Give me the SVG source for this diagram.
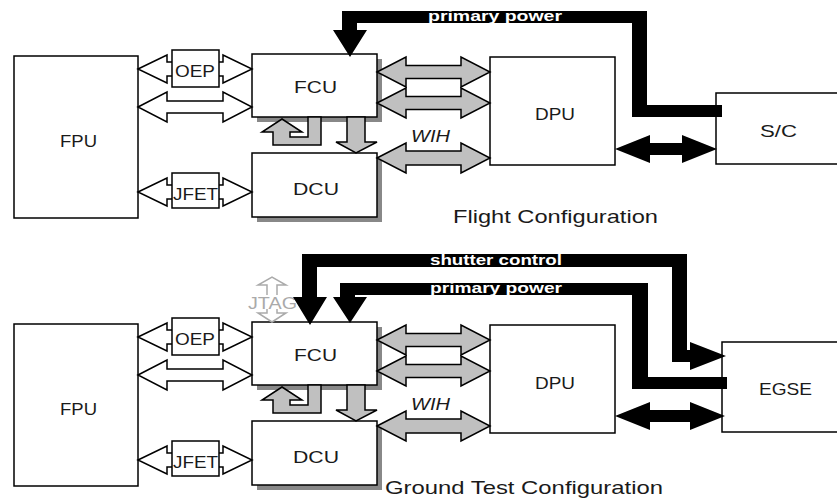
<svg xmlns="http://www.w3.org/2000/svg" width="837" height="503" viewBox="0 0 837 503">
<style>
.bg{fill:#fff}
.box{fill:#fff;stroke:#000;stroke-width:1.5}
.shadow{fill:#888}
.lbl{font-family:"Liberation Sans",Arial,sans-serif;font-size:17px;fill:#1a1a1a}
.cap{font-family:"Liberation Sans",Arial,sans-serif;font-size:19px;fill:#1a1a1a}
.it{font-family:"Liberation Sans",Arial,sans-serif;font-size:17px;font-style:italic;fill:#1a1a1a}
.ga{fill:#c0c0c0;stroke:#000;stroke-width:1.5}
.wa{fill:#fff;stroke:#000;stroke-width:1.5}
.ba{fill:#000}
.pw{font-family:"Liberation Sans",Arial,sans-serif;font-weight:bold;font-size:14px;fill:#fff}
.jt{fill:none;stroke:#aaa;stroke-width:1.5}
.jtt{font-family:"Liberation Sans",Arial,sans-serif;font-size:16px;fill:#aaa}
</style>
<rect class="bg" x="0" y="0" width="837" height="503"/>

<!-- ===== Flight configuration ===== -->
<g id="fpu1"><rect class="box" x="14" y="56" width="124" height="162"/><text class="lbl" x="60" y="147" textLength="37" lengthAdjust="spacingAndGlyphs">FPU</text></g>
<g id="fcu1"><rect class="shadow" x="257" y="59" width="125" height="63"/><rect class="box" x="252" y="54" width="125" height="63"/><text class="lbl" x="294" y="93" textLength="43" lengthAdjust="spacingAndGlyphs">FCU</text></g>
<g id="dcu1"><rect class="shadow" x="257" y="158" width="125" height="64"/><rect class="box" x="252" y="153" width="125" height="64"/><text class="lbl" x="293" y="195" textLength="46" lengthAdjust="spacingAndGlyphs">DCU</text></g>
<g id="dpu1"><rect class="box" x="490" y="57" width="125" height="108"/><text class="lbl" x="535" y="120" textLength="40" lengthAdjust="spacingAndGlyphs">DPU</text></g>
<g id="sc"><rect class="box" x="716" y="93" width="140" height="71"/><text class="lbl" x="760" y="137" textLength="37" lengthAdjust="spacingAndGlyphs">S/C</text></g>

<!-- ===== Ground test configuration ===== -->
<g id="fpu2"><rect class="box" x="14" y="324" width="124" height="162"/><text class="lbl" x="60" y="415" textLength="37" lengthAdjust="spacingAndGlyphs">FPU</text></g>
<g id="fcu2"><rect class="shadow" x="257" y="327" width="125" height="63"/><rect class="box" x="252" y="322" width="125" height="63"/><text class="lbl" x="294" y="361" textLength="43" lengthAdjust="spacingAndGlyphs">FCU</text></g>
<g id="dcu2"><rect class="shadow" x="257" y="426" width="125" height="64"/><rect class="box" x="252" y="421" width="125" height="64"/><text class="lbl" x="293" y="463" textLength="46" lengthAdjust="spacingAndGlyphs">DCU</text></g>
<g id="dpu2"><rect class="box" x="490" y="325" width="125" height="108"/><text class="lbl" x="535" y="389" textLength="40" lengthAdjust="spacingAndGlyphs">DPU</text></g>
<g id="egse"><rect class="box" x="722" y="342" width="140" height="90"/><text class="lbl" x="759" y="395" textLength="53" lengthAdjust="spacingAndGlyphs">EGSE</text></g>

<g id="jtag">
<path class="jt" d="M267,295 L267,285 L258,285 L272,277 L286,285 L277,285 L277,295"/>
<path class="jt" d="M267,309 L267,313 L258,313 L272,322 L286,313 L277,313 L277,309"/>
<text class="jtt" x="248" y="309" textLength="49" lengthAdjust="spacingAndGlyphs">JTAG</text>
</g>

<g id="connectors">
<!-- top: FPU-FCU -->
<polygon class="wa" points="138,69 167,55 167,62 223,62 223,55 252,69 223,83 223,76 167,76 167,83"/>
<polygon class="wa" points="138,107 167,92 167,101 223,101 223,92 252,107 223,122 223,113 167,113 167,122"/>
<polygon class="wa" points="138,192 167,178 167,185 223,185 223,178 252,192 223,206 223,199 167,199 167,206"/>
<!-- top: FCU/DCU-DPU -->
<polygon class="ga" points="377,72 406,57 406,65.5 461,65.5 461,57 490,72 461,87 461,78.5 406,78.5 406,87"/>
<polygon class="ga" points="377,103 406,88 406,96.5 461,96.5 461,88 490,103 461,118 461,109.5 406,109.5 406,118"/>
<polygon class="ga" points="377,158 406,143 406,151 461,151 461,143 490,158 461,173 461,165 406,165 406,173"/>
<polygon class="ga" points="347,117 365,117 365,142 377,142 356,153 336,142 347,142"/>
<polygon class="ga" points="282,119 302,132 290,132 290,137 308,137 308,117 321,117 321,145 273,145 273,132 262,132"/>
<polygon class="ba" points="615,149 650,135 650,143 682,143 682,135 717,149 682,163 682,155 650,155 650,163"/>
<polygon class="ba" points="342,30 342,11 647,11 647,105 722,105 722,117 632,117 632,23 357,23 357,30 367,30 350,57 333,30"/>
<text class="pw" x="428" y="21" textLength="134" lengthAdjust="spacingAndGlyphs">primary power</text>

<!-- bottom: FPU-FCU -->
<polygon class="wa" points="138,337 167,323 167,330 223,330 223,323 252,337 223,351 223,344 167,344 167,351"/>
<polygon class="wa" points="138,375 167,360 167,369 223,369 223,360 252,375 223,390 223,381 167,381 167,390"/>
<polygon class="wa" points="138,460 167,446 167,453 223,453 223,446 252,460 223,474 223,467 167,467 167,474"/>
<!-- bottom: FCU/DCU-DPU -->
<polygon class="ga" points="377,340 406,325 406,333.5 461,333.5 461,325 490,340 461,355 461,346.5 406,346.5 406,355"/>
<polygon class="ga" points="377,371 406,356 406,364.5 461,364.5 461,356 490,371 461,386 461,377.5 406,377.5 406,386"/>
<polygon class="ga" points="377,426 406,411 406,419 461,419 461,411 490,426 461,441 461,433 406,433 406,441"/>
<polygon class="ga" points="347,385 365,385 365,410 377,410 356,421 336,410 347,410"/>
<polygon class="ga" points="282,387 302,400 290,400 290,405 308,405 308,385 321,385 321,413 273,413 273,400 262,400"/>
<polygon class="ba" points="615,416 650,402 650,410 690,410 690,402 725,416 690,430 690,422 650,422 650,430"/>
<polygon class="ba" points="302,297 302,254 687,254 687,350 690,350 690,342 726,356 690,370 690,362 672,362 672,267 317,267 317,297 327,297 310,325 293,297"/>
<polygon class="ba" points="340,297 340,283 648,283 648,377 727,377 727,389 632,389 632,295 355,295 355,297 367,297 350,323 333,297"/>
<text class="pw" x="430" y="265" textLength="132" lengthAdjust="spacingAndGlyphs">shutter control</text>
<text class="pw" x="430" y="293" textLength="132" lengthAdjust="spacingAndGlyphs">primary power</text>
</g>

<g id="oep1"><rect class="box" x="172" y="50" width="47" height="37"/><text class="lbl" x="175" y="77" textLength="40" lengthAdjust="spacingAndGlyphs">OEP</text></g>
<g id="jfet1"><rect class="box" x="172" y="173" width="47" height="35"/><text class="lbl" x="173" y="200" textLength="45" lengthAdjust="spacingAndGlyphs">JFET</text></g>
<g id="oep2"><rect class="box" x="172" y="318" width="47" height="37"/><text class="lbl" x="175" y="345" textLength="40" lengthAdjust="spacingAndGlyphs">OEP</text></g>
<g id="jfet2"><rect class="box" x="172" y="441" width="47" height="35"/><text class="lbl" x="173" y="468" textLength="45" lengthAdjust="spacingAndGlyphs">JFET</text></g>

<text class="it" x="411" y="142" textLength="39" lengthAdjust="spacingAndGlyphs">WIH</text>
<text class="it" x="411" y="410" textLength="39" lengthAdjust="spacingAndGlyphs">WIH</text>
<text class="cap" x="453" y="223" textLength="205" lengthAdjust="spacingAndGlyphs">Flight Configuration</text>
<text class="cap" x="385" y="494" textLength="278" lengthAdjust="spacingAndGlyphs">Ground Test Configuration</text>
</svg>
